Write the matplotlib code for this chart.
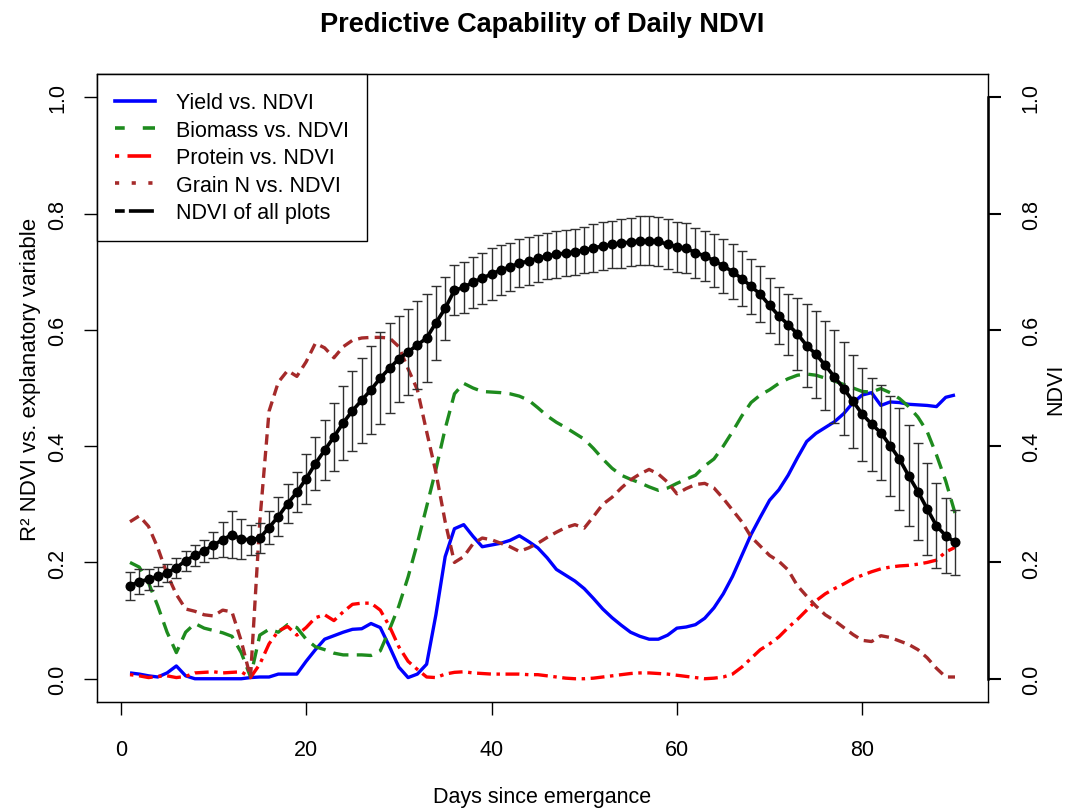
import matplotlib
matplotlib.use("Agg")
import matplotlib.pyplot as plt
from matplotlib.lines import Line2D
import numpy as np

plt.rcParams['font.family'] = ['Liberation Sans', 'DejaVu Sans']
plt.rcParams['lines.scale_dashes'] = False

days = list(range(1, 91))

yield_r2 = [0.010, 0.008, 0.005, 0.003, 0.010, 0.022, 0.005, 0.000, 0.000, 0.000,
            0.000, 0.000, 0.000, 0.002, 0.003, 0.003, 0.008, 0.008, 0.008, 0.030,
            0.050, 0.068, 0.074, 0.080, 0.085, 0.086, 0.095, 0.088, 0.055, 0.020,
            0.002, 0.008, 0.025, 0.110, 0.210, 0.258, 0.265, 0.245, 0.227, 0.230,
            0.233, 0.238, 0.246, 0.236, 0.225, 0.208, 0.188, 0.178, 0.168, 0.155,
            0.138, 0.120, 0.105, 0.092, 0.080, 0.073, 0.068, 0.068, 0.075, 0.087,
            0.089, 0.093, 0.104, 0.122, 0.146, 0.176, 0.212, 0.248, 0.278, 0.307,
            0.325, 0.350, 0.380, 0.408, 0.422, 0.432, 0.442, 0.456, 0.475, 0.488,
            0.492, 0.470, 0.476, 0.475, 0.472, 0.471, 0.470, 0.468, 0.484, 0.488]

biomass_r2 = [0.200, 0.192, 0.165, 0.125, 0.080, 0.045, 0.080, 0.095, 0.087, 0.083,
              0.079, 0.073, 0.045, 0.003, 0.075, 0.085, 0.080, 0.093, 0.088, 0.068,
              0.055, 0.050, 0.044, 0.041, 0.041, 0.041, 0.040, 0.048, 0.085, 0.125,
              0.175, 0.233, 0.296, 0.360, 0.430, 0.490, 0.508, 0.500, 0.494, 0.493,
              0.492, 0.490, 0.486, 0.479, 0.466, 0.452, 0.441, 0.432, 0.422, 0.412,
              0.396, 0.378, 0.362, 0.350, 0.343, 0.337, 0.330, 0.324, 0.328, 0.336,
              0.343, 0.350, 0.366, 0.378, 0.400, 0.425, 0.452, 0.475, 0.488, 0.497,
              0.508, 0.516, 0.522, 0.524, 0.522, 0.517, 0.512, 0.506, 0.500, 0.494,
              0.493, 0.499, 0.492, 0.482, 0.468, 0.450, 0.425, 0.385, 0.340, 0.285]

protein_r2 = [0.007, 0.005, 0.002, 0.004, 0.005, 0.002, 0.004, 0.010, 0.011, 0.012,
              0.010, 0.011, 0.012, 0.002, 0.025, 0.060, 0.082, 0.090, 0.075, 0.088,
              0.105, 0.110, 0.100, 0.115, 0.128, 0.130, 0.130, 0.118, 0.090, 0.055,
              0.030, 0.016, 0.003, 0.002, 0.008, 0.011, 0.012, 0.010, 0.009, 0.008,
              0.008, 0.008, 0.008, 0.007, 0.007, 0.005, 0.003, 0.001, 0.000, 0.000,
              0.001, 0.003, 0.005, 0.007, 0.009, 0.010, 0.010, 0.009, 0.008, 0.006,
              0.004, 0.002, 0.000, 0.001, 0.003, 0.008, 0.020, 0.035, 0.050, 0.060,
              0.072, 0.088, 0.102, 0.118, 0.134, 0.146, 0.155, 0.163, 0.172, 0.178,
              0.184, 0.189, 0.192, 0.194, 0.195, 0.197, 0.200, 0.204, 0.218, 0.226]

grainn_r2 = [0.270, 0.280, 0.262, 0.225, 0.180, 0.145, 0.120, 0.116, 0.110, 0.108,
             0.118, 0.115, 0.065, 0.002, 0.270, 0.460, 0.510, 0.530, 0.520, 0.545,
             0.577, 0.569, 0.552, 0.571, 0.582, 0.586, 0.587, 0.587, 0.586, 0.571,
             0.533, 0.497, 0.425, 0.355, 0.270, 0.200, 0.210, 0.232, 0.242, 0.239,
             0.233, 0.227, 0.219, 0.225, 0.233, 0.243, 0.252, 0.260, 0.265, 0.259,
             0.279, 0.300, 0.312, 0.328, 0.342, 0.352, 0.360, 0.352, 0.338, 0.318,
             0.327, 0.334, 0.336, 0.328, 0.310, 0.290, 0.270, 0.244, 0.228, 0.212,
             0.202, 0.187, 0.160, 0.142, 0.125, 0.110, 0.100, 0.088, 0.076, 0.066,
             0.064, 0.074, 0.071, 0.065, 0.059, 0.050, 0.036, 0.018, 0.003, 0.003]

ndvi_mean = [0.160, 0.167, 0.171, 0.176, 0.182, 0.191, 0.203, 0.212, 0.220, 0.230,
             0.239, 0.248, 0.240, 0.239, 0.242, 0.260, 0.279, 0.301, 0.321, 0.344,
             0.370, 0.393, 0.416, 0.440, 0.461, 0.479, 0.497, 0.517, 0.534, 0.550,
             0.562, 0.574, 0.586, 0.612, 0.637, 0.668, 0.673, 0.682, 0.689, 0.696,
             0.703, 0.708, 0.715, 0.718, 0.723, 0.727, 0.730, 0.732, 0.734, 0.737,
             0.741, 0.744, 0.747, 0.749, 0.751, 0.753, 0.753, 0.752, 0.747, 0.743,
             0.740, 0.733, 0.727, 0.719, 0.710, 0.700, 0.688, 0.675, 0.661, 0.642,
             0.624, 0.609, 0.593, 0.573, 0.558, 0.539, 0.519, 0.499, 0.477, 0.455,
             0.438, 0.423, 0.401, 0.378, 0.349, 0.322, 0.292, 0.263, 0.246, 0.235]

ndvi_sd = [0.024, 0.021, 0.018, 0.016, 0.016, 0.017, 0.017, 0.018, 0.019, 0.022,
           0.030, 0.040, 0.034, 0.026, 0.026, 0.028, 0.034, 0.034, 0.035, 0.043,
           0.045, 0.052, 0.059, 0.064, 0.069, 0.073, 0.076, 0.079, 0.077, 0.074,
           0.074, 0.075, 0.075, 0.064, 0.054, 0.043, 0.044, 0.044, 0.044, 0.044,
           0.043, 0.042, 0.042, 0.041, 0.040, 0.040, 0.040, 0.040, 0.040, 0.040,
           0.041, 0.041, 0.041, 0.042, 0.042, 0.042, 0.042, 0.042, 0.043, 0.043,
           0.043, 0.043, 0.043, 0.045, 0.046, 0.047, 0.047, 0.047, 0.048, 0.048,
           0.049, 0.052, 0.062, 0.072, 0.075, 0.076, 0.080, 0.080, 0.080, 0.080,
           0.080, 0.082, 0.086, 0.088, 0.087, 0.084, 0.079, 0.073, 0.064, 0.056]

legend_labels = ["Yield vs. NDVI", "Biomass vs. NDVI", "Protein vs. NDVI",
                 "Grain N vs. NDVI", "NDVI of all plots"]
axis_ticks = [0.0, 0.2, 0.4, 0.6, 0.8, 1.0]
x_ticks = [0, 20, 40, 60, 80]

c_blue = '#0000FF'
c_green = '#1E8B1E'
c_red = '#FF0000'
c_brown = '#A52A2A'

FS = 15.5
fig = plt.figure(figsize=(10.68, 8.12), dpi=100)
ax = fig.add_axes([97/1068, 1 - 703/812, (988-97)/1068, (703-75)/812])

lw = 2.4
ax.plot(days, yield_r2, color=c_blue, lw=lw, solid_capstyle='butt')
ax.plot(days, biomass_r2, color=c_green, lw=lw, linestyle=(0, (11, 6)), dash_capstyle='butt')
ax.plot(days, protein_r2, color=c_red, lw=lw, linestyle=(0, (2.5, 4, 10, 4)), dash_capstyle='butt')
ax.plot(days, grainn_r2, color=c_brown, lw=lw, linestyle=(0, (7.5, 4.5)), dash_capstyle='butt')
ax.errorbar(days, ndvi_mean, yerr=ndvi_sd, fmt='none', ecolor='#303030',
            elinewidth=1.0, capsize=3.4, capthick=1.0)
ax.plot(days, ndvi_mean, color='black', lw=2.6, marker='o', markersize=6.2)

ax.set_xlim(-2.56, 93.56)
ax.set_ylim(-0.04, 1.04)
ax.set_xticks(x_ticks)
ax.set_yticks(axis_ticks)
ax.set_yticklabels([f"{t:.1f}" for t in axis_ticks])
ax.tick_params(axis='both', direction='out', length=9.5, width=1.0, labelsize=FS)
ax.tick_params(axis='x', pad=17)
ax.tick_params(axis='y', pad=11)
for lab in ax.get_yticklabels():
    lab.set_rotation(90)
    lab.set_va('center')
    lab.set_ha('right')
for sp in ax.spines.values():
    sp.set_linewidth(1.0)

ax2 = ax.twinx()
ax2.set_ylim(-0.04, 1.04)
ax2.set_yticks(axis_ticks)
ax2.set_yticklabels([f"{t:.1f}" for t in axis_ticks])
ax2.tick_params(axis='y', direction='out', length=9.5, width=1.5, labelsize=FS, pad=14)
for lab in ax2.get_yticklabels():
    lab.set_rotation(90)
    lab.set_va('center')
    lab.set_ha('left')
ax2.spines['right'].set_linewidth(1.8)
ax2.spines['right'].set_bounds(0, 1)

ax.set_xlabel("Days since emergance", fontsize=FS)
ax.xaxis.set_label_coords(0.5, -0.151)
ax.xaxis.label.set_va('center')
ax.set_ylabel("R\u00b2 NDVI vs. explanatory variable", fontsize=16)
ax.yaxis.set_label_coords(-0.075, 0.515)
ax.yaxis.label.set_va('center')
ax2.set_ylabel("NDVI", fontsize=FS, rotation=90)
ax2.yaxis.set_label_coords(1.0763, 0.5)
ax2.yaxis.label.set_va('center')

fig.text(542.5/1068, 1 - 25/812, "Predictive Capability of Daily NDVI",
         ha='center', va='center', fontsize=19.5, fontweight='bold')

handles = [
    Line2D([], [], color=c_blue, lw=2.6),
    Line2D([], [], color=c_green, lw=2.6, linestyle=(2, (9, 13))),
    Line2D([], [], color=c_red, lw=2.6, linestyle=(0, (3, 6, 17, 6))),
    Line2D([], [], color=c_brown, lw=2.6, linestyle=(0, (3, 9))),
    Line2D([], [], color='black', lw=2.6, linestyle=(0, (7, 3, 18, 3))),
]
leg = ax.legend(handles, legend_labels, loc='upper left', bbox_to_anchor=(0, 1),
                borderaxespad=0, fontsize=FS, frameon=True, fancybox=False,
                edgecolor='black', framealpha=1, handlelength=1.85,
                handletextpad=0.95, labelspacing=0.3, borderpad=0.85)
leg.get_frame().set_linewidth(1.0)

fig.savefig("out.png", dpi=100)
